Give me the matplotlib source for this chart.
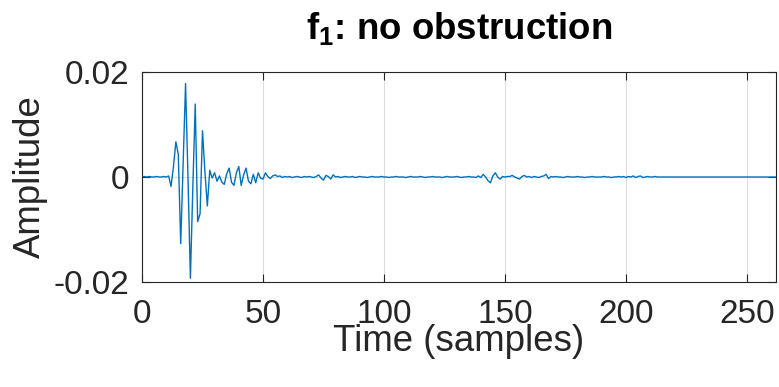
import numpy as np
import matplotlib
matplotlib.use("Agg")
import matplotlib.pyplot as plt
from matplotlib.ticker import FixedLocator, FixedFormatter

plt.rcParams['font.family'] = ['Liberation Sans', 'DejaVu Sans']
plt.rcParams['mathtext.fontset'] = 'custom'
plt.rcParams['mathtext.rm'] = 'Liberation Sans'
plt.rcParams['mathtext.bf'] = 'Liberation Sans:bold'
plt.rcParams['mathtext.it'] = 'Liberation Sans:italic'

title_text = r'$\mathbf{f_1}$: no obstruction'
x_label = 'Time (samples)'
y_label = 'Amplitude'
x_ticks = [0, 50, 100, 150, 200, 250]
x_tick_labels = ['0', '50', '100', '150', '200', '250']
y_ticks = [-0.02, 0.0, 0.02]
y_tick_labels = ['-0.02', '0', '0.02']

amplitude = [
    0.0000, 0.0001, 0.0000, 0.0001, 0.0000, 0.0000, 0.0001, 0.0000, 0.0000, 0.0001,
    0.0000, 0.0002, -0.0018, 0.0020, 0.0067, 0.0043, -0.0127, 0.0025, 0.0178, 0.0000,
    -0.0193, -0.0020, 0.0139, -0.0085, -0.0070, 0.0088, 0.0010, -0.0055, 0.0013, -0.0002,
    0.0008, -0.0008, 0.0002, -0.0010, -0.0014, 0.0006, 0.0017, -0.0010, -0.0016, 0.0008,
    0.0020, -0.0016, 0.0004, 0.0017, -0.0008, -0.0013, 0.0005, -0.0011, 0.0008, -0.0002,
    -0.0004, 0.0008, 0.0001, -0.0003, 0.0002, 0.0004, 0.0001, 0.0002, -0.0001, 0.0001,
    0.0000, 0.0001, -0.0001, 0.0000, 0.0001, 0.0000, -0.0001, 0.0001, 0.0000, 0.0001,
    0.0000, -0.0001, 0.0001, 0.0004, -0.0002, -0.0006, 0.0003, 0.0001, -0.0004, 0.0004,
    0.0000, 0.0001, -0.0001, 0.0000, 0.0001, 0.0000, 0.0000, 0.0001, -0.0001, 0.0000,
    0.0001, 0.0000, 0.0000, -0.0001, 0.0000, 0.0001, 0.0000, 0.0000, 0.0000, 0.0001,
    0.0000, 0.0000, -0.0001, 0.0000, 0.0000, 0.0001, 0.0000, 0.0000, 0.0000, -0.0001,
    0.0000, 0.0001, 0.0000, 0.0000, 0.0000, 0.0001, 0.0000, -0.0001, 0.0000, 0.0000,
    0.0001, 0.0000, 0.0000, 0.0000, -0.0001, 0.0000, 0.0001, 0.0000, 0.0000, 0.0000,
    0.0001, 0.0000, -0.0001, 0.0000, 0.0000, 0.0001, 0.0000, 0.0000, -0.0001, 0.0002,
    -0.0001, 0.0005, 0.0000, -0.0007, -0.0011, 0.0002, 0.0008, 0.0000, -0.0004, 0.0001,
    0.0000, 0.0001, 0.0001, 0.0003, 0.0000, -0.0002, -0.0004, 0.0001, 0.0003, 0.0000,
    0.0001, -0.0001, 0.0001, 0.0000, -0.0001, 0.0001, 0.0002, 0.0005, -0.0003, 0.0001,
    0.0000, 0.0001, 0.0000, 0.0000, -0.0001, 0.0000, 0.0001, 0.0000, 0.0000, 0.0000,
    0.0001, 0.0000, 0.0000, -0.0001, 0.0000, 0.0000, 0.0001, 0.0000, 0.0000, 0.0000,
    0.0000, 0.0001, 0.0000, 0.0000, -0.0001, 0.0000, 0.0000, 0.0001, 0.0000, 0.0001,
    -0.0001, 0.0001, 0.0000, 0.0002, -0.0001, 0.0001, 0.0002, -0.0001, 0.0000, 0.0001,
    0.0000, 0.0000, 0.0001, 0.0000, 0.0000, 0.0000, 0.0000, 0.0000, 0.0000, 0.0000,
    0.0000, 0.0000, 0.0000, 0.0000, 0.0000, 0.0000, 0.0000, 0.0000, 0.0000, 0.0000,
    0.0000, 0.0000, 0.0000, 0.0000, 0.0000, 0.0000, 0.0000, 0.0000, 0.0000, 0.0000,
    0.0000, 0.0000, 0.0000, 0.0000, 0.0000, 0.0000, 0.0000, 0.0000, 0.0000, 0.0000,
    0.0000, 0.0000, 0.0000, 0.0000, 0.0000, 0.0000, 0.0000, 0.0000, 0.0000, 0.0000,
    0.0000, 0.0000, 0.0000,
]
samples = np.arange(len(amplitude))

W, H = 779, 387
fig = plt.figure(figsize=(W / 100, H / 100), dpi=100)
ax = fig.add_axes([142 / W, 105 / H, 634 / W, 210 / H])

ax.plot(samples, amplitude, color='#0072BD', lw=1.0)

ax.set_xlim(0, 262)
ax.set_ylim(-0.02, 0.02)
ax.xaxis.set_major_locator(FixedLocator(x_ticks))
ax.xaxis.set_major_formatter(FixedFormatter(x_tick_labels))
ax.yaxis.set_major_locator(FixedLocator(y_ticks))
ax.yaxis.set_major_formatter(FixedFormatter(y_tick_labels))

ax.grid(True, color='#262626', alpha=0.15, lw=0.8)
ax.set_axisbelow(True)

axcol = '#262626'
for s in ax.spines.values():
    s.set_color(axcol)
    s.set_linewidth(0.8)
ax.tick_params(direction='in', length=6, width=0.8, colors=axcol,
               labelsize=24, top=True, right=True)
ax.tick_params(axis='x', pad=12)
ax.tick_params(axis='y', pad=9)

ax.set_xlabel(x_label, fontsize=26.4, color=axcol)
ax.set_ylabel(y_label, fontsize=26.4, color=axcol)
ax.xaxis.set_label_coords(0.5, -0.20)
ax.yaxis.set_label_coords(-0.148, 0.5)
ax.set_title(title_text, fontsize=26.4, fontweight='bold', color='black', pad=24)

fig.savefig('out.png', dpi=100)
